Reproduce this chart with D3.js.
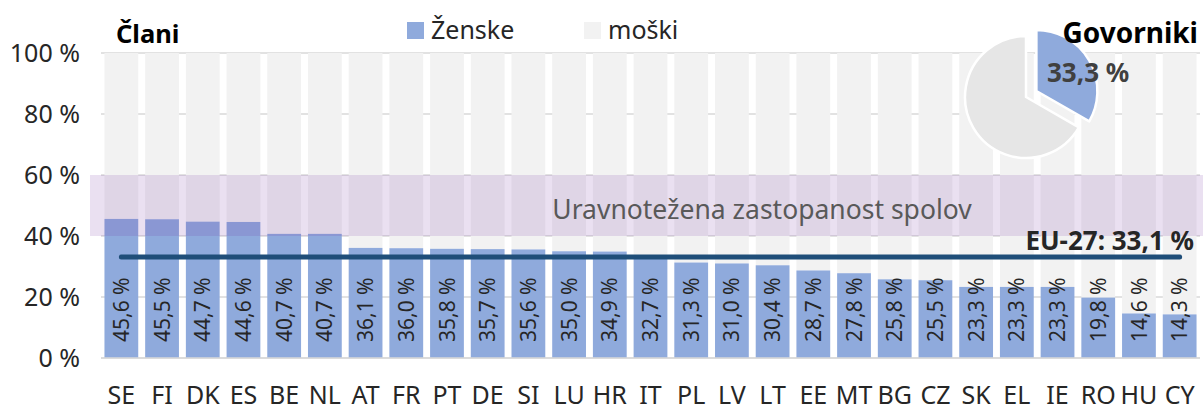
<!DOCTYPE html>
<html>
<head>
<meta charset="utf-8">
<script src="https://cdn.jsdelivr.net/npm/d3@7"></script>
<style>
  html, body { margin: 0; padding: 0; background: #fff; }
  svg { display: block; font-family: "Noto Sans", "Open Sans", sans-serif; }
</style>
</head>
<body>
<div id="chart-container"></div>
<script>
const countries = ["SE","FI","DK","ES","BE","NL","AT","FR","PT","DE","SI","LU","HR","IT","PL","LV","LT","EE","MT","BG","CZ","SK","EL","IE","RO","HU","CY"];
const womenShare = [45.6,45.5,44.7,44.6,40.7,40.7,36.1,36.0,35.8,35.7,35.6,35.0,34.9,32.7,31.3,31.0,30.4,28.7,27.8,25.8,25.5,23.3,23.3,23.3,19.8,14.6,14.3];
const yTicks = [0, 20, 40, 60, 80, 100];
const euAverage = 33.1;
const balanceRange = [40, 60];
const speakerShares = [33.3, 66.7];
const seriesNames = ["Ženske", "moški"];

const COLORS = { women: "#8faadc", men: "#f2f2f2", menPie: "#e6e6e6", grid: "#d9d9d9", eu: "#1f4e79", text: "#262626" };
const size = { width: 1203, height: 411 };
const plot = { left: 101, right: 1200, top: 53, bottom: 358 };

function fmt(v) {
    return v.toFixed(1).replace(".", ",") + " %";
}

const svg = d3.select("#chart-container")
    .append("svg")
    .attr("width", size.width)
    .attr("height", size.height);

const x = d3.scaleBand()
    .domain(countries)
    .range([plot.left, plot.right])
    .paddingInner(0.17)
    .paddingOuter(0.085);

const y = d3.scaleLinear()
    .domain([0, 100])
    .range([plot.bottom, plot.top]);

// gridlines
svg.append("g")
    .selectAll("line")
    .data(yTicks)
    .join("line")
    .attr("x1", plot.left)
    .attr("x2", plot.right)
    .attr("y1", d => y(d))
    .attr("y2", d => y(d))
    .attr("stroke", COLORS.grid)
    .attr("stroke-width", 1.3);

// y axis labels
const yAxis = d3.axisLeft(y)
    .tickValues(yTicks)
    .tickSize(0)
    .tickPadding(0)
    .tickFormat(d => d + " %");

svg.append("g")
    .attr("transform", `translate(80,0)`)
    .call(yAxis)
    .call(g => g.select(".domain").remove())
    .selectAll("text")
    .attr("font-family", "Noto Sans")
    .attr("font-size", 25)
    .attr("fill", COLORS.text);

// men (rest up to 100 %)
svg.append("g")
    .selectAll("rect")
    .data(countries)
    .join("rect")
    .attr("x", d => x(d))
    .attr("width", x.bandwidth())
    .attr("y", y(100))
    .attr("height", (d, i) => y(womenShare[i]) - y(100))
    .attr("fill", COLORS.men);

// women
svg.append("g")
    .selectAll("rect")
    .data(countries)
    .join("rect")
    .attr("x", d => x(d))
    .attr("width", x.bandwidth())
    .attr("y", (d, i) => y(womenShare[i]))
    .attr("height", (d, i) => y(0) - y(womenShare[i]))
    .attr("fill", COLORS.women);

// baseline
svg.append("line")
    .attr("x1", plot.left)
    .attr("x2", plot.right)
    .attr("y1", y(0))
    .attr("y2", y(0))
    .attr("stroke", COLORS.grid)
    .attr("stroke-width", 1.3);

// balanced representation band
svg.append("rect")
    .attr("x", 90)
    .attr("width", size.width - 90)
    .attr("y", y(balanceRange[1]))
    .attr("height", y(balanceRange[0]) - y(balanceRange[1]))
    .attr("fill", "#7030a0")
    .attr("fill-opacity", 0.15);

svg.append("text")
    .attr("x", 762)
    .attr("y", 219)
    .attr("text-anchor", "middle")
    .attr("font-size", 26.5)
    .attr("fill", "#595959")
    .text("Uravnotežena zastopanost spolov");

// EU average line
svg.append("line")
    .attr("x1", x(countries[0]) + x.bandwidth() / 2)
    .attr("x2", x(countries[countries.length - 1]) + x.bandwidth() / 2)
    .attr("y1", y(euAverage))
    .attr("y2", y(euAverage))
    .attr("stroke", COLORS.eu)
    .attr("stroke-width", 5)
    .attr("stroke-linecap", "round");

svg.append("text")
    .attr("x", 1194)
    .attr("y", 250)
    .attr("text-anchor", "end")
    .attr("font-size", 26)
    .attr("font-weight", "bold")
    .attr("fill", COLORS.text)
    .text("EU-27: " + fmt(euAverage));

// value labels
svg.append("g")
    .selectAll("text")
    .data(countries)
    .join("text")
    .attr("transform", d => `translate(${x(d) + x.bandwidth() / 2},342) rotate(-90)`)
    .attr("dy", "0.36em")
    .attr("font-size", 21)
    .attr("fill", COLORS.text)
    .text((d, i) => fmt(womenShare[i]));

// x axis labels
const xAxis = d3.axisBottom(x).tickSize(0).tickPadding(0);
svg.append("g")
    .attr("transform", `translate(0,404)`)
    .call(xAxis)
    .call(g => g.select(".domain").remove())
    .selectAll("text")
    .attr("dy", 0)
    .attr("font-family", "Noto Sans")
    .attr("font-size", 25)
    .attr("fill", COLORS.text);

// titles
svg.append("text")
    .attr("x", 116)
    .attr("y", 43)
    .attr("font-size", 25.5)
    .attr("font-weight", "bold")
    .attr("fill", "#000")
    .text("Člani");

// legend
const legend = svg.append("g");
const legendX = [407, 584];
const legendColors = [COLORS.women, COLORS.men];
seriesNames.forEach((name, i) => {
    legend.append("rect")
        .attr("x", legendX[i])
        .attr("y", 22)
        .attr("width", 17)
        .attr("height", 17)
        .attr("fill", legendColors[i]);
    legend.append("text")
        .attr("x", legendX[i] + 24)
        .attr("y", 39)
        .attr("font-size", 25)
        .attr("fill", COLORS.text)
        .text(name);
});

// pie for speakers
const pieCenter = { x: 1026, y: 97 };
const radius = 61;
const pie = d3.pie().sort(null).value(d => d);
const arc = d3.arc().innerRadius(0).outerRadius(radius);
const pieGroup = svg.append("g").attr("transform", `translate(${pieCenter.x},${pieCenter.y})`);
pie(speakerShares).forEach((slice, i) => {
    const mid = (slice.startAngle + slice.endAngle) / 2;
    const offset = i === 0 ? 12 : 0;
    pieGroup.append("path")
        .attr("d", arc(slice))
        .attr("transform", `translate(${Math.sin(mid) * offset},${-Math.cos(mid) * offset})`)
        .attr("fill", i === 0 ? COLORS.women : COLORS.menPie)
        .attr("stroke", "#fff")
        .attr("stroke-width", 2.5)
        .attr("stroke-linejoin", "round");
});

svg.append("text")
    .attr("x", 1198)
    .attr("y", 43)
    .attr("text-anchor", "end")
    .attr("font-size", 28)
    .attr("font-weight", "bold")
    .attr("fill", "#000")
    .text("Govorniki");

svg.append("text")
    .attr("x", 1047)
    .attr("y", 82)
    .attr("font-size", 26)
    .attr("font-weight", "bold")
    .attr("fill", "#404040")
    .text(fmt(speakerShares[0]));
</script>
</body>
</html>
